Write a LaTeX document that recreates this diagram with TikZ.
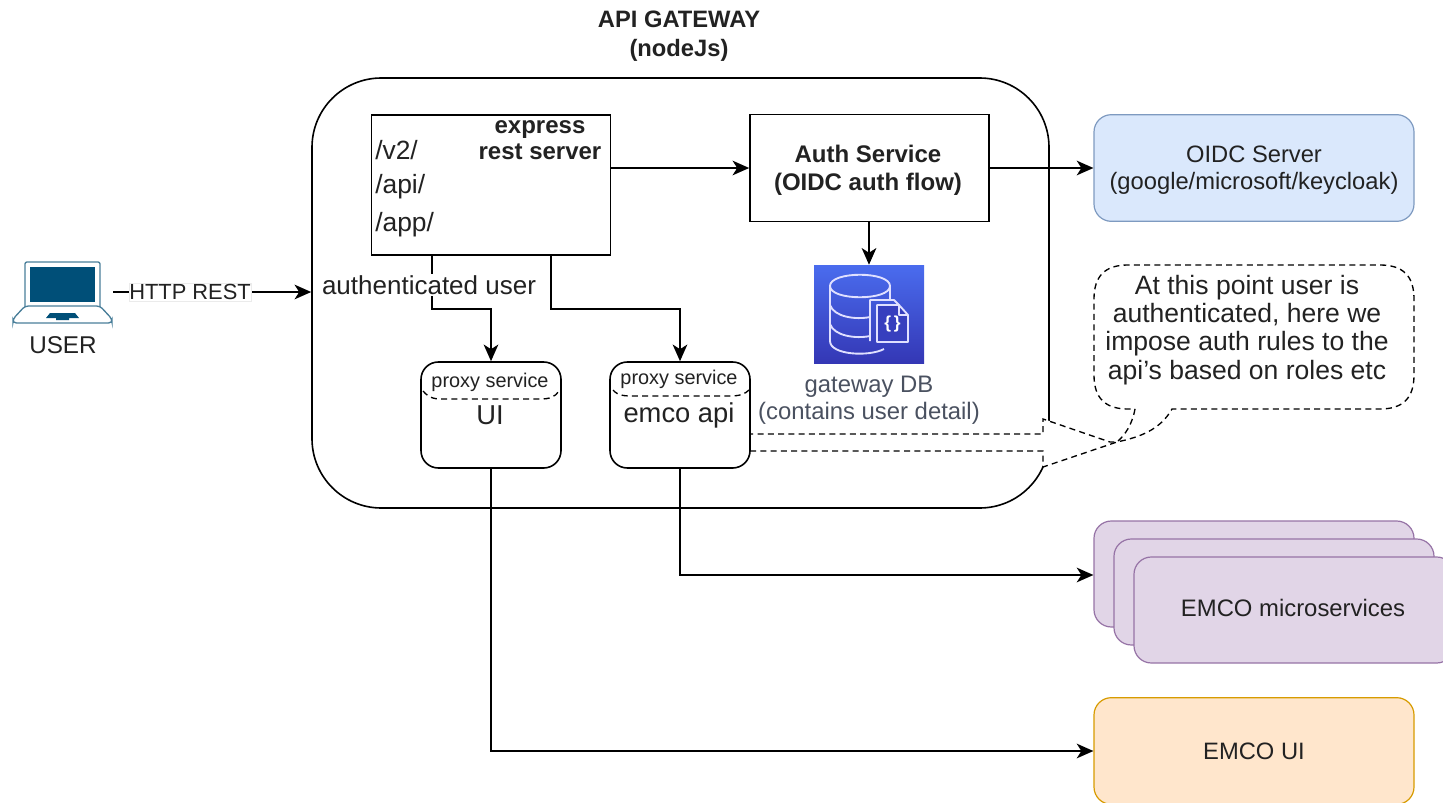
\documentclass[tikz,border=0pt]{standalone}
\usepackage{fontspec}
\setmainfont{Liberation Sans}
\usetikzlibrary{arrows.meta}
\definecolor{bluefill}{HTML}{DAE8FC}\definecolor{blueline}{HTML}{7E9AC0}
\definecolor{purplefill}{HTML}{E1D5E7}\definecolor{purpleline}{HTML}{9673A6}
\definecolor{orangefill}{HTML}{FFE6CC}\definecolor{orangeline}{HTML}{D79B00}
\definecolor{laptop}{HTML}{004F78}\definecolor{laptopline}{HTML}{4A7F9A}
\definecolor{dbtop}{HTML}{4A6CEE}\definecolor{dbbot}{HTML}{3437B5}
\definecolor{txt}{HTML}{222222}\definecolor{dbtxt}{HTML}{4A5160}
\tikzset{
 ln/.style={line width=1.2pt,black},
 conn/.style={ln,-{Stealth[length=12.5pt,width=11pt,inset=3.5pt]}},
 dsh/.style={line width=1pt,black,dash pattern=on 4.5pt off 3.2pt},
 sqbox/.style={draw=black,line width=1.2pt,fill=white,minimum width=#1*0.75pt,inner sep=0pt},
 proxy/.style={draw=black,line width=1.2pt,fill=white,rounded corners=13pt,inner sep=0pt,minimum width=105pt,minimum height=79.5pt},
 side/.style={line width=.9pt,rounded corners=13pt,inner sep=0pt,align=center,text=txt,font=\fontsize{17.8}{20}\selectfont},
 lbl/.style={inner sep=0pt,align=center,text=txt},
 icn/.style={white!88!blue,line width=1.4pt,line join=round},
 x=.75pt,y=-.75pt
}
\begin{document}
\begin{tikzpicture}
\useasboundingbox (0,0) rectangle (1443,803);
\clip (0,0) rectangle (1443,803);
% titles
\node[lbl,font=\bfseries\fontsize{17.8}{21.75}\selectfont] (title) at (679,36) {API GATEWAY\\(nodeJs)};
% gateway
\node[draw=black,line width=1.2pt,rounded corners=52pt,minimum width=552.75pt,minimum height=322.5pt,inner sep=0pt] (gw) at (680.5,293) {};
% right boxes
\node[side,draw=blueline,fill=bluefill,minimum width=240pt,minimum height=80pt] (oidc) at (1254,168) {};
\node[lbl,font=\fontsize{17.8}{20}\selectfont] (oidct) at (1254,170.5) {OIDC Server\\(google/microsoft/keycloak)};
\node[side,draw=purpleline,fill=purplefill,minimum width=240pt,minimum height=79.5pt] (ms1) at (1254,574) {};
\node[side,draw=purpleline,fill=purplefill,minimum width=240pt,minimum height=79.5pt] (ms2) at (1274,592) {};
\node[side,draw=purpleline,fill=purplefill,minimum width=240pt,minimum height=79.5pt] (ms3) at (1294,610) {};
\node[lbl,font=\fontsize{17.9}{20}\selectfont] (mst) at (1293,608) {EMCO microservices};
\node[side,draw=orangeline,fill=orangefill,minimum width=240pt,minimum height=80pt] (ui2) at (1254,751) {EMCO UI};
% callout
\fill[white] (750,434) -- (1043,434) -- (1043,419) -- (1117,442) -- (1043,467) -- (1043,451) -- (750,451) -- cycle;
\draw[dsh] (1135,409) .. controls (1132,425) and (1125,435) .. (1117,442) -- (1110,442) -- (1043,419) -- (1043,434) -- (750,434);
\draw[dsh] (750,451) -- (1043,451) -- (1043,467) -- (1117,442) .. controls (1140,437) and (1160,430) .. (1172,409) -- (1380,409) .. controls (1403,409) and (1414,398) .. (1414,375) -- (1414,299) .. controls (1414,276) and (1403,265) .. (1380,265) -- (1128,265) .. controls (1105,265) and (1094,276) .. (1094,299) -- (1094,375) .. controls (1094,398) and (1105,409) .. (1128,409) -- (1135,409);
\node[lbl,font=\fontsize{19.9}{21.2}\selectfont] (note) at (1247,330) {At this point user is\\authenticated, here we\\impose auth rules to the\\api's based on roles etc};
% inner boxes
\node[sqbox=239,minimum height=105pt] (rest) at (491,185) {};
\node[lbl,font=\bfseries\fontsize{18}{19.5}\selectfont] (restt) at (540,140) {express\\rest server};
\node[lbl,font=\fontsize{19.8}{20}\selectfont,anchor=west] (v2) at (375,150) {/v2/};
\node[lbl,font=\fontsize{19.8}{20}\selectfont,anchor=west] (apip) at (375,187) {/api/};
\node[lbl,font=\fontsize{19.8}{20}\selectfont,anchor=west] (appp) at (375,225) {/app/};
\node[sqbox=239,minimum height=80pt] (auth) at (869.5,168) {};
\node[lbl,font=\bfseries\fontsize{18}{21}\selectfont] (autht) at (868,170) {Auth Service\\(OIDC auth flow)};
% DB icon
\node[minimum width=82.5pt,minimum height=73.5pt,inner sep=0pt,top color=dbtop,bottom color=dbbot] (db) at (869,314) {};
\begin{scope}[shift={(814,265)}]
\draw[icn] (16,21) .. controls (16,6) and (76,6) .. (76,21) .. controls (76,36) and (16,36) .. (16,21);
\draw[icn] (16,21) -- (16,76) .. controls (16,90) and (55,92) .. (70,84);
\draw[icn] (76,21) -- (76,35);
\draw[icn] (16,40) .. controls (20,52) and (42,55) .. (56,52);
\draw[icn] (16,59) .. controls (20,71) and (42,74) .. (56,71);
\draw[icn] (56,76) -- (56,35) -- (80,35) -- (85,40);
\draw[icn,fill=dbbot!85!dbtop] (63,77) -- (63,40) -- (85,40) -- (94,50) -- (94,77) -- cycle;
\draw[icn] (85,40) -- (85,50) -- (94,50);
\node[white,inner sep=0pt,font=\bfseries\fontsize{13}{13}\selectfont] (br) at (78.5,59) {\{\,\}};
\end{scope}
\node[lbl,font=\fontsize{17.9}{20}\selectfont,text=dbtxt] (dbt) at (869,400) {gateway DB\\(contains user detail)};
% proxies
\node[proxy] (pui) at (491,415) {};
\node[proxy] (pem) at (680,415) {};
\draw[dsh] (423,391) .. controls (430,399) and (435,399) .. (445,399) -- (540,399) .. controls (550,399) and (555,397) .. (559,391);
\draw[dsh] (613,390) .. controls (618,396) and (625,396) .. (635,396) -- (730,396) .. controls (740,396) and (745,394) .. (749,390);
\node[lbl,font=\fontsize{14.9}{15}\selectfont] (pt1) at (490,382) {proxy service};
\node[lbl,font=\fontsize{14.9}{15}\selectfont] (pt2) at (679,379) {proxy service};
\node[lbl,font=\fontsize{20.5}{20}\selectfont] (uit) at (490,415) {UI};
\node[lbl,font=\fontsize{20.5}{20}\selectfont] (emt) at (679,415) {emco api};
% user
\draw[laptopline,line width=1pt,fill=white,rounded corners=1.5pt] (25,307) -- (25,262) -- (100,262) -- (100,307);
\fill[laptop] (30,267) rectangle (95,302);
\draw[laptopline,line width=1pt,fill=white,rounded corners=2.5pt] (25,306) -- (100,306) -- (112,319) -- (112,323) -- (13,323) -- (13,319) -- cycle;
\fill[laptop] (50,313) -- (75,313) -- (79,318) -- (69,318) -- (69,320) -- (56,320) -- (56,318) -- (46,318) -- cycle;
\coordinate (lap) at (113,292);
\node[lbl,font=\fontsize{18.2}{19}\selectfont] (user) at (63,345) {USER};
% connectors
\draw[conn] (lap) -- (gw.west |- lap);
\node[fill=white,draw=black!8,line width=.3pt,inner xsep=0pt,inner ysep=1pt,font=\fontsize{16.4}{18}\selectfont,text=txt] (http) at (190,292) {HTTP REST};
\draw[conn] (rest.east |- 0,168) -- (auth.west |- 0,168);
\draw[conn] (auth.east) -- (oidc.west);
\draw[conn] (auth.south -| db.north) -- (db.north);
\coordinate (a1) at (432,257);
\coordinate (a2) at (551,257);
\draw[conn] (rest.south -| a1) -- (432,309) -- (pui.north |- 0,309) -- (pui.north);
\draw[conn] (rest.south -| a2) -- (551,309) -- (pem.north |- 0,309) -- (pem.north);
\node[fill=white,inner sep=1pt,font=\fontsize{19.5}{20}\selectfont,text=txt] (authu) at (429,285) {authenticated user};
\draw[conn] (pem.south) -- (680,575) -- (ms1.west |- 0,575);
\draw[conn] (pui.south) -- (491,751) -- (ui2.west);
\end{tikzpicture}
\end{document}
